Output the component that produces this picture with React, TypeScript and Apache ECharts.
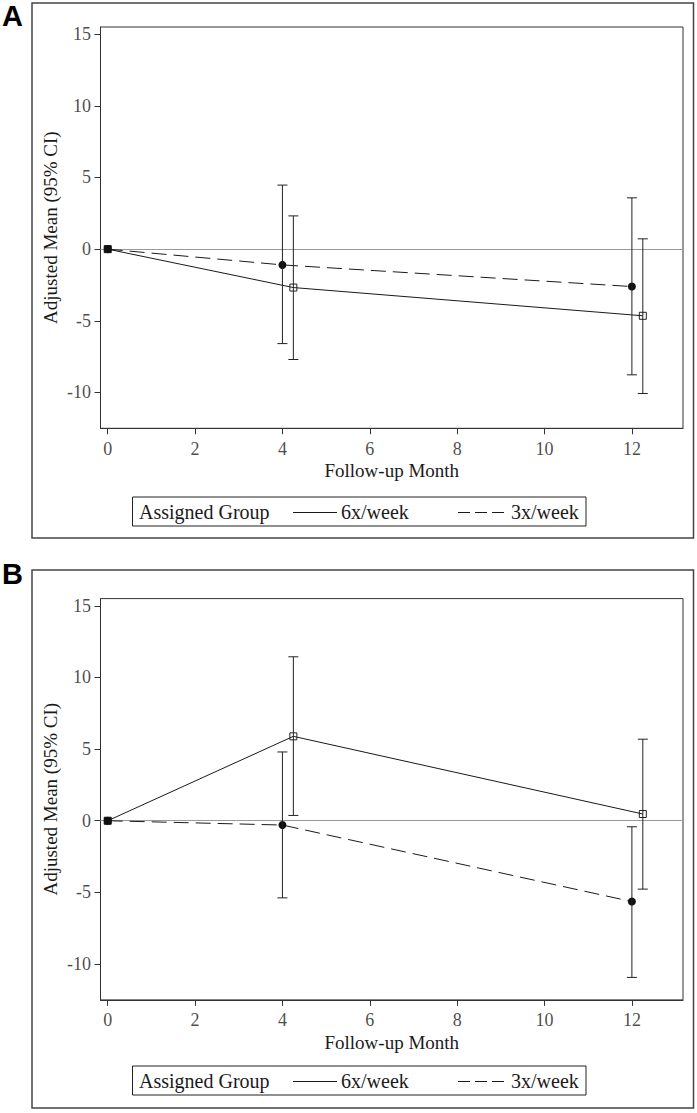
import React, { useEffect, useRef } from "react";
import * as echarts from "echarts";

// ---------- data ----------
const months = [0, 4, 12];
const xTicks = [0, 2, 4, 6, 8, 10, 12];
const yTicks = [-10, -5, 0, 5, 10, 15];
const groupNames = ["6x/week", "3x/week"];

// Panel A
const a6Mean = [0, -2.68, -4.65];
const a6Lo = [null, -7.7, -10.07];
const a6Hi = [null, 2.32, 0.72];
const a3Mean = [0, -1.1, -2.61];
const a3Lo = [null, -6.59, -8.77];
const a3Hi = [null, 4.47, 3.58];

// Panel B
const b6Mean = [0, 5.89, 0.47];
const b6Lo = [null, 0.37, -4.77];
const b6Hi = [null, 11.44, 5.69];
const b3Mean = [0, -0.3, -5.64];
const b3Lo = [null, -5.38, -10.93];
const b3Hi = [null, 4.8, -0.42];

const X_MIN = -0.165;
const X_MAX = 13.17;
const Y_MIN = -12.5;
const Y_MAX = 15.5;
const DODGE = 0.25; // horizontal offset of the 6x/week group

const SERIF = "Liberation Serif";
const SANS = "Liberation Sans";
const INK = "#1a1a1a";

function pts(mean: number[], dodge: number) {
  return months.map((m, i) => [m === 0 ? m : m + dodge, mean[i]]);
}
function bars(lo: (number | null)[], hi: (number | null)[], dodge: number) {
  const out: number[][] = [];
  months.forEach((m, i) => {
    if (lo[i] != null && hi[i] != null) out.push([m + dodge, lo[i] as number, hi[i] as number]);
  });
  return out;
}

const renderBar = (params: any, api: any) => {
  const x = api.value(0);
  const pLo = api.coord([x, api.value(1)]);
  const pHi = api.coord([x, api.value(2)]);
  const w = 5;
  const st = { stroke: "#222", lineWidth: 1 };
  return {
    type: "group",
    children: [
      { type: "line", shape: { x1: pLo[0], y1: pLo[1], x2: pHi[0], y2: pHi[1] }, style: st },
      { type: "line", shape: { x1: pLo[0] - w, y1: pLo[1], x2: pLo[0] + w, y2: pLo[1] }, style: st },
      { type: "line", shape: { x1: pHi[0] - w, y1: pHi[1], x2: pHi[0] + w, y2: pHi[1] }, style: st },
    ],
  };
};

export default function App() {
  const ref = useRef<HTMLDivElement>(null);
  useEffect(() => {
    document.body.style.margin = "0";
    if (!ref.current) return;
    const chart = echarts.init(ref.current, undefined, { renderer: "svg" });

    const grids = [
      { left: 100.5, top: 27, width: 582.5, height: 401.3 },
      { left: 100.5, top: 598.6, width: 582.5, height: 401.3 },
    ];

    const xAxis = grids.map((_, gi) => ({
      type: "value",
      gridIndex: gi,
      min: X_MIN,
      max: X_MAX,
      splitLine: { show: false },
      axisLine: { show: true, onZero: false, lineStyle: { color: "#333", width: 1 } },
      axisTick: { show: true, length: 6, customValues: xTicks, lineStyle: { color: "#333" } },
      axisLabel: { show: false },
      name: "Follow-up Month",
      nameLocation: "middle",
      nameGap: 33,
      nameTextStyle: { fontSize: 19, fontFamily: SERIF, color: INK },
    }));
    const yAxis = grids.map((_, gi) => ({
      type: "value",
      gridIndex: gi,
      min: Y_MIN,
      max: Y_MAX,
      splitLine: { show: false },
      axisLine: { show: true, onZero: false, lineStyle: { color: "#333", width: 1 } },
      axisTick: { show: true, length: 6, customValues: yTicks, lineStyle: { color: "#333" } },
      axisLabel: { show: false },
      name: "Adjusted Mean (95% CI)",
      nameLocation: "middle",
      nameGap: 41,
      nameRotate: 90,
      nameTextStyle: { fontSize: 19, fontFamily: SERIF, color: INK },
    }));

    const panels = [
      { m6: a6Mean, l6: a6Lo, h6: a6Hi, m3: a3Mean, l3: a3Lo, h3: a3Hi },
      { m6: b6Mean, l6: b6Lo, h6: b6Hi, m3: b3Mean, l3: b3Lo, h3: b3Hi },
    ];

    const tickText = { fontSize: 18, fontFamily: SERIF, color: INK };

    const series: any[] = [];
    panels.forEach((p, gi) => {
      // tick labels, placed through the axes' own scales
      series.push({
        type: "scatter",
        xAxisIndex: gi,
        yAxisIndex: gi,
        silent: true,
        clip: false,
        symbolSize: 1,
        itemStyle: { color: "rgba(0,0,0,0)" },
        data: xTicks.map((t) => [t, Y_MIN]),
        label: {
          show: true,
          position: "bottom",
          distance: 11,
          formatter: (d: any) => String(d.value[0]),
          ...tickText,
        },
        z: 2,
      });
      series.push({
        type: "scatter",
        xAxisIndex: gi,
        yAxisIndex: gi,
        silent: true,
        clip: false,
        symbolSize: 1,
        itemStyle: { color: "rgba(0,0,0,0)" },
        data: yTicks.map((t) => [X_MIN, t]),
        label: {
          show: true,
          position: "left",
          distance: 9,
          formatter: (d: any) => String(d.value[1]),
          ...tickText,
        },
        z: 2,
      });
      series.push({
        type: "line",
        name: groupNames[1],
        xAxisIndex: gi,
        yAxisIndex: gi,
        data: pts(p.m3, 0),
        symbol: "circle",
        symbolSize: 8,
        itemStyle: { color: "#111" },
        lineStyle: { color: INK, width: 1, type: [15, 7] },
        z: 3,
        markLine: {
          silent: true,
          symbol: ["none", "none"],
          label: { show: false },
          lineStyle: { color: "#999", type: "solid", width: 1 },
          data: [{ yAxis: 0 }],
          z: 1,
        },
      });
      const d6: any[] = pts(p.m6, DODGE);
      d6[0] = { value: d6[0], itemStyle: { color: "#111", borderColor: "#111" } };
      series.push({
        type: "line",
        name: groupNames[0],
        xAxisIndex: gi,
        yAxisIndex: gi,
        data: d6,
        symbol: "rect",
        symbolSize: 7,
        itemStyle: { color: "rgba(255,255,255,0)", borderColor: "#222", borderWidth: 1 },
        lineStyle: { color: INK, width: 1, type: "solid" },
        z: 4,
      });
      series.push({
        type: "custom",
        xAxisIndex: gi,
        yAxisIndex: gi,
        renderItem: renderBar,
        encode: { x: 0, y: [1, 2] },
        data: bars(p.l3, p.h3, 0),
        z: 5,
      });
      series.push({
        type: "custom",
        xAxisIndex: gi,
        yAxisIndex: gi,
        renderItem: renderBar,
        encode: { x: 0, y: [1, 2] },
        data: bars(p.l6, p.h6, DODGE),
        z: 5,
      });
    });

    const frames = [
      { x: 32, y: 3, w: 661.5, h: 535, label: "A", ly: 16, legY: 497 },
      { x: 32, y: 570, w: 661.5, h: 538, label: "B", ly: 574, legY: 1066 },
    ];
    const graphic: any[] = [];
    frames.forEach((f) => {
      graphic.push({
        type: "rect",
        shape: { x: f.x, y: f.y, width: f.w, height: f.h },
        style: { fill: "none", stroke: "#444", lineWidth: 1.5 },
        silent: true,
      });
      graphic.push({
        type: "text",
        style: {
          text: f.label,
          x: 2,
          y: f.ly,
          fontSize: 29,
          fontWeight: "bold",
          fontFamily: SANS,
          fill: "#000",
          align: "left",
          verticalAlign: "middle",
        },
      });
      const cy = f.legY + 14.5;
      graphic.push({
        type: "rect",
        shape: { x: 132.5, y: f.legY, width: 453.5, height: 29 },
        style: { fill: "none", stroke: "#222", lineWidth: 1 },
        silent: true,
      });
      const ts = { fontSize: 20, fontFamily: SERIF, fill: INK, align: "left", verticalAlign: "middle" };
      graphic.push({ type: "text", style: { ...ts, text: "Assigned Group", x: 139, y: cy } });
      graphic.push({
        type: "line",
        shape: { x1: 293, y1: cy + 1, x2: 337, y2: cy + 1 },
        style: { stroke: INK, lineWidth: 1 },
      });
      graphic.push({ type: "text", style: { ...ts, text: groupNames[0], x: 341, y: cy } });
      graphic.push({
        type: "line",
        shape: { x1: 458, y1: cy + 1, x2: 507, y2: cy + 1 },
        style: { stroke: INK, lineWidth: 1, lineDash: [12, 5] },
      });
      graphic.push({ type: "text", style: { ...ts, text: groupNames[1], x: 511, y: cy } });
    });

    chart.setOption({
      animation: false,
      backgroundColor: "#fff",
      textStyle: { fontFamily: SERIF, color: INK },
      grid: grids.map((g) => ({ ...g, show: true, borderColor: "#333", borderWidth: 1, backgroundColor: "transparent" })),
      xAxis,
      yAxis,
      series,
      graphic,
    });
    return () => chart.dispose();
  }, []);
  return <div ref={ref} style={{ width: 697, height: 1113 }} />;
}
